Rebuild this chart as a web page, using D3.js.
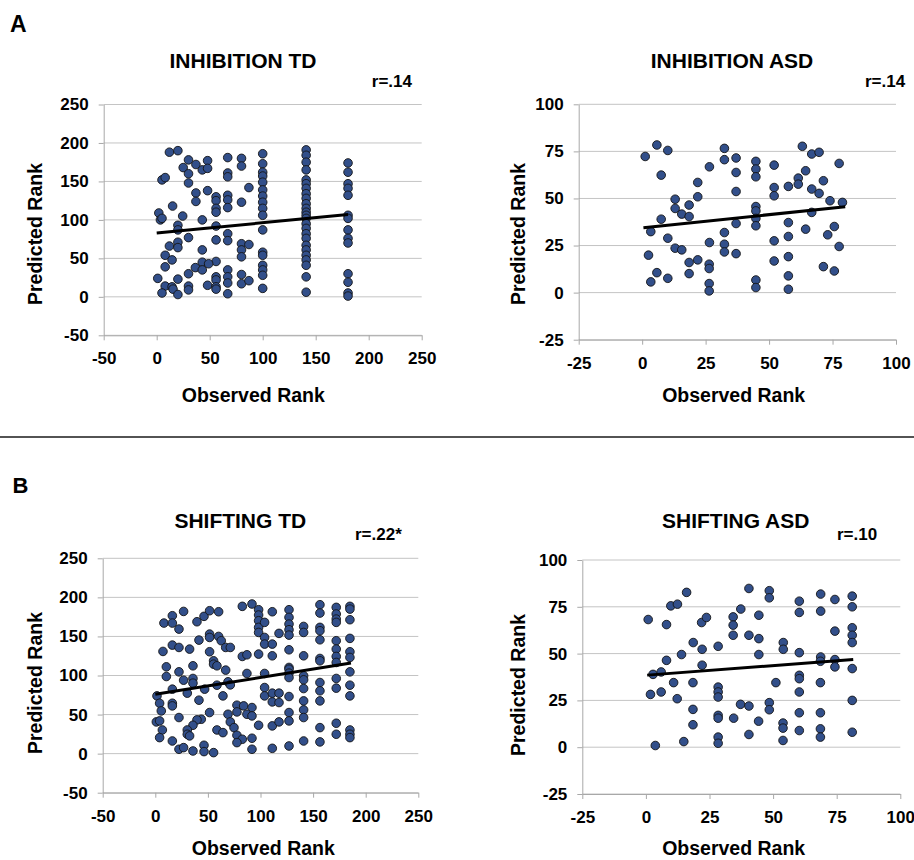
<!DOCTYPE html>
<html lang="en">
<head>
<meta charset="utf-8">
<script src="https://d3js.org/d3.v7.min.js"></script>
<style type="text/css">
body {
	margin: 0;
	background: #fff;
}
svg {
	display: block;
	font-family: "Liberation Sans", Arial, sans-serif;
	font-weight: bold;
}
.grid line {
	stroke: #c4c4c4;
	stroke-width: 1;
}
.axis path, .axis line {
	stroke: #a8a8a8;
	stroke-width: 1;
}
.axis text {
	font-size: 17px;
	font-weight: bold;
	fill: #000;
}
.dot {
	fill: #324f8a;
	stroke: #141414;
	stroke-width: 0.9;
}
.trend {
	stroke: #000;
	stroke-width: 3;
	fill: none;
}
</style>
</head>
<body>
<script type="text/javascript">

// tick values
var tdTicks = [-50, 0, 50, 100, 150, 200, 250];
var asdTicks = [-25, 0, 25, 50, 75, 100];

// panel A : inhibition, observed vs predicted rank
var inhTdPts = [
  [12,188],[20,190],[30,178],[48,177],[67,181],[80,180],[100,186],[141,191],
  [25,168],[37,172],[43,165],[48,167],[30,160],[80,170],[100,173],[141,184],[141,175],[141,165],[180.5,174],[180.5,162],
  [5,152],[8,155],[30,148],[67,161],[67,156],[100,162],[100,157],[100,149],[141,152],[141,147],[180.5,147],
  [87,142],[48,138],[37,135],[56,130],[67,132],[100,139],[100,131],[141,141],[141,134],[180.5,141],[180.5,132],
  [37,124],[56,125],[67,126],[80,123],[15,118],[56,115],[67,116],[100,123],[100,115],[141,128],[141,121],[141,115],
  [2,109],[3.5,100],[5,102],[24.5,105],[43,100],[56,110],[100,106],[141,110],[141,106],[141,102],[180.5,106],[180.5,102],
  [20,93],[20,87],[56,92],[100,87],[141,95],[141,89],[141,82],[67,82],[180.5,87],
  [30,77],[56,74],[67,73],[12,66],[20,71],[20,64],[80,69],[87,68],[141,76],[141,67],[180.5,76],[180.5,70],
  [43,61],[8,54],[14.5,48],[80,61],[80,52],[100,58],[100,54],[141,61],[141,54],[141,48],[56,46],[43,45],[49,43],
  [8,39],[36.5,38],[43,35],[30,30],[67,35],[56,26],[67,26],[80,29],[100,41],[100,35],[100,28],[141,41],[141,26],[180.5,30],[1,24],
  [20,23],[30,14],[30,9],[48,15],[56,22],[56,13],[56,10],[67,18],[80,17],[87,21],[8,14],[14.5,13],[15.4,10],[5,5],[20,3],
  [67,4],[100,11],[141,6],[180.5,19],[180.5,5],[180.5,1]
];
var inhTdTrend = [[0, 83], [180.5, 107]];

var inhAsdPts = [
  [1.2,72.3],[5.8,78.4],[10.1,75.5],[7.5,62.4],[32.4,76.6],[32.4,70.6],[37,71.5],[26.5,66.8],[37,63.8],[44.8,69.7],
  [44.8,65.6],[44.8,61.5],[52,67.7],[63.1,77.7],[66.8,73.6],[69.7,74.5],[77.6,68.6],[64.4,64.7],[61.5,60.8],[61.5,57.6],
  [71.4,59.4],[21.9,58.5],[52,55.8],[52,51.4],[57.6,56.4],[66.8,55],[69.7,52.7],[37,53.7],[21.9,50.9],[13,49.6],
  [18.5,46.5],[13,44.7],[15.6,41.7],[18.5,40.4],[7.5,39],[74,48.8],[78.9,47.9],[44.8,45.7],[44.8,43.4],[44.8,39.4],
  [44.8,35.5],[66.8,42.6],[37,36.7],[57.6,37.2],[3.4,32.4],[10.1,28.9],[13,23.6],[15.6,22.7],[32.4,31.9],[32.4,25.7],
  [32.4,21.6],[26.5,26.6],[37,20.7],[57.6,29.8],[64.4,33.7],[73.1,30.7],[75.7,35.1],[52,27.5],[77.6,24.5],[2.5,19.9],
  [18.5,16],[21.9,17.4],[26.4,15.1],[26.4,12.8],[18.5,10.1],[5.8,10.6],[10.1,7.6],[3.4,5.7],[52,16.8],[57.6,19.1],
  [71.4,13.8],[75.7,11.5],[26.4,4.8],[26.4,0.9],[44.8,6.7],[44.8,2.7],[57.6,8.9],[57.6,1.8]
];
var inhAsdTrend = [[0.5, 34.5], [80, 45.6]];

// panel B : shifting
var shiftTdPts = [
  [82.7,188.5],[91.9,191.5],[98.2,184.2],[98.2,177.4],[98.2,170.1],[98.2,161.6],[98.2,155.1],[103.9,168],[111.2,181.6],
  [127.1,184.2],[127.1,174.4],[127.1,165.8],[127.1,158.6],[127.1,151.7],[141,162.8],[141,155.1],[156.5,190.6],[156.5,179.9],
  [156.5,161.6],[156.5,157.3],[156.5,145.7],[172,187.2],[172,178.7],[172,172.2],[172,168],[185,188.5],[185,185],[185,171.4],
  [8.2,167.1],[16.2,176.5],[16.2,167.1],[22.5,159.4],[26.9,182],[39.6,168.8],[46.3,175.7],[51.6,182.9],[60.2,181.6],
  [51.6,153],[51.6,148.7],[117.6,153.9],
  [16.2,138.9],[22.5,135.9],[7.3,130.8],[32.6,133.8],[41.5,145.3],[60.2,150],[62.7,144.5],[66.9,135.9],[71.3,135.9],
  [51.6,130.4],[55.4,118.8],[55.4,114.5],[58.6,112.4],[66.9,106.9],[35.8,112.4],[10.5,111.1],[103.9,148.7],[103.9,140.2],
  [111.2,140.2],[98.2,127.4],[82.7,124.4],[87.1,126.5],[111.2,125.2],[141,125.2],[156.5,121.8],[156.5,118.8],[172,144.5],
  [172,133.8],[172,124.4],[172,116.7],[185,147.5],[185,130.4],[185,123.1],[127.1,132.9],[127.1,110.3],
  [10.5,98.7],[22.5,104.7],[26.9,94],[35.8,96.2],[35.8,90.2],[16.2,82.5],[30.4,77.4],[46.9,82.5],[58.6,87.6],[69.1,91.9],
  [71.3,88],[64.3,73.9],[41.5,68.4],[87.1,102.6],[103.9,102.6],[127.1,108.1],[127.1,103],[127.1,97.4],[141,99.6],[141,94.5],
  [141,83.3],[141,67.5],[103.9,84.6],[103.9,73.9],[111.2,77.4],[117.6,77.4],[111.2,66.2],[117.6,65.4],[127.1,73.1],
  [156.5,91],[156.5,80.4],[156.5,67.5],[172,96.2],[172,83.8],[185,104.7],[185,87.6],[185,73.9],[1.6,73.9],[4.1,64.5],[16.2,64.5],
  [5.7,54.7],[22.5,46.2],[16.2,61.1],[1,40.6],[4.1,41.9],[6.7,30.3],[51.6,52.6],[43.7,44],[39.6,43.2],[35.8,36.3],
  [30.4,30.3],[30.4,24.8],[77.6,62],[84,61.1],[91.9,59],[69.1,50.4],[71.3,40.6],[77.6,53.4],[87.1,50.4],[91.9,48.3],
  [98.2,36.3],[111.2,35.5],[117.6,40.6],[127.1,52.6],[127.1,41.9],[141,56],[141,46.2],[58.6,30.3],[64.3,26.9],[74.8,33.3],
  [77.6,23.5],[82.7,18.4],[91.9,19.7],[156.5,33.3],[172,38.9],[172,24.8],[185,30.3],[185,24.8],[185,20.5],[4.1,20.5],
  [16.2,16.2],[32.6,22.7],[22.5,5.6],[26.9,7.7],[35.8,3.4],[46.3,10.7],[46.3,2.6],[55.4,1.3],[77.6,14.1],[91.9,5.6],
  [111.2,6.8],[127.1,9.8],[141,16.2],[156.5,15]
];
var shiftTdTrend = [[0, 76], [186, 116]];

var shiftAsdPts = [
  [0.9,68.2],[8.1,65.5],[9.8,75.5],[12.4,76.4],[16,82.7],[21.9,66.6],[23.8,69.3],[18.6,55.9],[22.1,52.3],[28.4,53.9],
  [14,49.5],[8.1,46.4],[34.3,69.6],[34.3,65.2],[34.3,59.8],[37.3,73.8],[40.5,84.8],[40.5,59.8],[44.4,70.5],[44.4,58],
  [44.4,49.5],[48.5,83.6],[48.5,79.8],[54,55.9],[54,52.3],[60.3,78],[60.3,72],[60.3,50.5],[68.7,81.8],[68.7,72.7],
  [68.7,48.2],[74.3,78.9],[74.3,62],[74.3,46.8],[81.1,80.7],[81.1,75],[81.1,63.8],[81.1,59.8],[81.1,55.9],
  [68.6,45.9],[74.3,42.9],[81.1,42],[22.1,43.8],[2.8,38.9],[6,40.2],[10.9,34.5],[18.5,34.5],[1.8,28.2],[6,29.5],
  [12.3,25.9],[28.4,32.1],[28.4,29.5],[28.4,26.8],[51.1,34.5],[60.3,38.4],[60.3,36.6],[60.3,29.5],[68.6,34.5],[81.1,25],
  [18.5,20.2],[18.5,12],[28.4,17],[28.4,15.5],[34.5,15.5],[37.2,22.9],[40.5,22],[48.5,23.8],[48.5,20],[44.3,13.9],
  [40.5,6.8],[53.9,12.9],[53.9,10.2],[53.9,3.6],[60.3,18.4],[60.3,8.9],[68.6,18.4],[68.6,9.8],[68.6,5.4],[81.1,8],
  [28.4,5.4],[28.4,2.1],[14.9,3],[3.7,0.9]
];
var shiftAsdTrend = [[0.5, 38.5], [81.5, 46.8]];

var titles = ["INHIBITION TD", "INHIBITION ASD", "SHIFTING TD", "SHIFTING ASD"];
var rLabels = ["r=.14", "r=.14", "r=.22*", "r=.10"];

// layout of the four panels (pixel boxes)
var panels = [
  {pts: inhTdPts, trend: inhTdTrend, ticks: tdTicks, left: 103.7, right: 421.7, top: 104.5, bottom: 335.3,
   titleX: 243, titleY: 68.3, rX: 412, rY: 87.3, rAnchor: "end", yLabX: 41.7, yLabY: 234, xLabX: 253.3, xLabY: 402},
  {pts: inhAsdPts, trend: inhAsdTrend, ticks: asdTicks, left: 578.7, right: 896, top: 104.3, bottom: 339.7,
   titleX: 732, titleY: 68.3, rX: 865, rY: 87.3, rAnchor: "start", yLabX: 525.3, yLabY: 234, xLabX: 733.7, xLabY: 402},
  {pts: shiftTdPts, trend: shiftTdTrend, ticks: tdTicks, left: 102.7, right: 418.3, top: 558.3, bottom: 792.7,
   titleX: 240.3, titleY: 528.3, rX: 355, rY: 540, rAnchor: "start", yLabX: 41.7, yLabY: 683, xLabX: 263.3, xLabY: 855},
  {pts: shiftAsdPts, trend: shiftAsdTrend, ticks: asdTicks, left: 582.3, right: 900.3, top: 560, bottom: 794,
   titleX: 735.7, titleY: 528.3, rX: 837, rY: 540, rAnchor: "start", yLabX: 525.3, yLabY: 685, xLabX: 733.7, xLabY: 855}
];

var width = 914;
var height = 860;

// plain hyphen for negatives, like the original
var fmt = function(d) { return String(d); };

var svg = d3.select("body")
            .append("svg")
            .attr("width", width)
            .attr("height", height);

// panel letters and divider
svg.append("text")
   .attr("x", 10)
   .attr("y", 31.7)
   .style("font-size", "23px")
   .text("A");

svg.append("text")
   .attr("x", 12.5)
   .attr("y", 493)
   .style("font-size", "22px")
   .text("B");

svg.append("line")
   .attr("x1", 0)
   .attr("x2", width)
   .attr("y1", 437)
   .attr("y2", 437)
   .style("stroke", "#1a1a1a")
   .style("stroke-width", 1.5);

panels.forEach(function(p, i) {
  var ticks = p.ticks;
  var dom = [ticks[0], ticks[ticks.length - 1]];

  var x = d3.scaleLinear().domain(dom).range([p.left, p.right]);
  var y = d3.scaleLinear().domain(dom).range([p.bottom, p.top]);

  var g = svg.append("g");

  // horizontal gridlines
  g.append("g")
   .attr("class", "grid")
   .selectAll("line")
   .data(ticks)
   .enter()
   .append("line")
   .attr("x1", p.left)
   .attr("x2", p.right)
   .attr("y1", function(d) { return y(d); })
   .attr("y2", function(d) { return y(d); });

  g.append("g")
   .attr("class", "axis")
   .attr("transform", "translate(0," + p.bottom + ")")
   .call(d3.axisBottom(x).tickValues(ticks).tickFormat(fmt).tickSize(5).tickSizeOuter(0).tickPadding(12))
   .selectAll("text")
   .style("font-family", "inherit");

  g.append("g")
   .attr("class", "axis")
   .attr("transform", "translate(" + p.left + ",0)")
   .call(d3.axisLeft(y).tickValues(ticks).tickFormat(fmt).tickSize(5).tickSizeOuter(0).tickPadding(10))
   .selectAll("text")
   .style("font-family", "inherit");

  // points
  g.append("g")
   .selectAll("circle")
   .data(p.pts)
   .enter()
   .append("circle")
   .attr("class", "dot")
   .attr("cx", function(d) { return x(d[0]); })
   .attr("cy", function(d) { return y(d[1]); })
   .attr("r", 4.3);

  // linear trendline
  g.append("path")
   .attr("class", "trend")
   .attr("d", d3.line().x(function(d) { return x(d[0]); }).y(function(d) { return y(d[1]); })(p.trend));

  g.append("text")
   .attr("x", p.titleX)
   .attr("y", p.titleY)
   .attr("text-anchor", "middle")
   .style("font-size", "21px")
   .text(titles[i]);

  g.append("text")
   .attr("x", p.rX)
   .attr("y", p.rY)
   .attr("text-anchor", p.rAnchor)
   .style("font-size", "17px")
   .text(rLabels[i]);

  g.append("text")
   .attr("transform", "translate(" + p.yLabX + "," + p.yLabY + ") rotate(-90)")
   .attr("text-anchor", "middle")
   .style("font-size", "19.5px")
   .text("Predicted Rank");

  g.append("text")
   .attr("x", p.xLabX)
   .attr("y", p.xLabY)
   .attr("text-anchor", "middle")
   .style("font-size", "19.5px")
   .text("Observed Rank");
});

</script>
</body>
</html>
